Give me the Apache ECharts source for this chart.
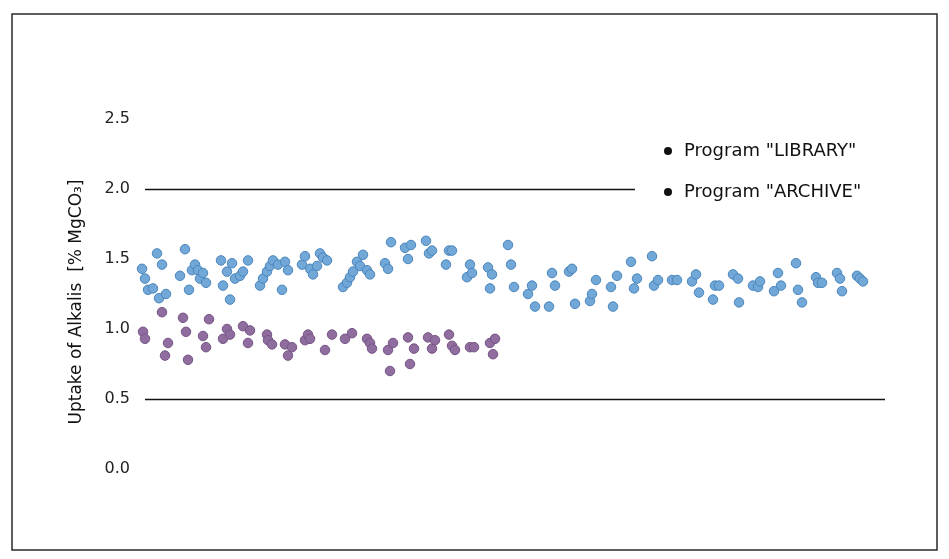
<!DOCTYPE html>
<html>
<head>
<meta charset="utf-8">
<script src="https://cdn.jsdelivr.net/npm/echarts@6/dist/echarts.min.js"></script>
<style>html,body{margin:0;padding:0;background:#fff}#c{width:949px;height:559px}</style>
</head>
<body>
<div id="c"></div>
<script>
// Sample position (arbitrary units along the run) and uptake of alkalis [% MgCO3]
const libraryX = [-3,0,3,8,12,14,17,21,35,40,44,47,50,53,55,58,61,76,78,82,85,87,90,95,98,103,115,118,122,125,128,133,137,140,143,157,160,165,168,172,175,178,182,198,202,205,208,212,215,218,222,225,240,243,246,260,263,266,281,284,287,301,304,307,322,325,327,343,345,347,363,366,369,383,387,390,404,407,410,424,427,430,445,447,451,466,468,472,486,489,492,507,509,513,527,532,547,551,554,568,570,574,588,593,594,608,613,615,629,633,636,651,653,657,671,673,677,692,695,697,712,715,718];
const libraryY = [1.43,1.36,1.28,1.29,1.54,1.22,1.46,1.25,1.38,1.57,1.28,1.42,1.46,1.42,1.36,1.40,1.33,1.49,1.31,1.41,1.21,1.47,1.36,1.38,1.41,1.49,1.31,1.36,1.41,1.45,1.49,1.46,1.28,1.48,1.42,1.46,1.52,1.43,1.39,1.45,1.54,1.51,1.49,1.30,1.33,1.37,1.41,1.48,1.45,1.53,1.42,1.39,1.47,1.43,1.62,1.58,1.50,1.60,1.63,1.54,1.56,1.46,1.56,1.56,1.37,1.46,1.40,1.44,1.29,1.39,1.60,1.46,1.30,1.25,1.31,1.16,1.16,1.40,1.31,1.41,1.43,1.18,1.20,1.25,1.35,1.30,1.16,1.38,1.48,1.29,1.36,1.52,1.31,1.35,1.35,1.35,1.34,1.39,1.26,1.21,1.31,1.31,1.39,1.36,1.19,1.31,1.30,1.34,1.27,1.40,1.31,1.47,1.28,1.19,1.37,1.33,1.33,1.40,1.36,1.27,1.38,1.36,1.34];
const archiveX = [-2,0,17,20,23,38,41,43,58,61,64,78,82,85,98,103,105,122,123,127,140,143,147,160,163,165,180,187,200,207,222,225,227,243,245,248,263,265,269,283,287,290,304,307,310,325,329,345,348,350];
const archiveY = [0.98,0.93,1.12,0.81,0.90,1.08,0.98,0.78,0.95,0.87,1.07,0.93,1.00,0.96,1.02,0.90,0.99,0.96,0.92,0.89,0.89,0.81,0.87,0.92,0.96,0.93,0.85,0.96,0.93,0.97,0.93,0.90,0.86,0.85,0.70,0.90,0.94,0.75,0.86,0.94,0.86,0.92,0.96,0.88,0.85,0.87,0.87,0.90,0.82,0.93];
const yTicks = [0, 0.5, 1.0, 1.5, 2.0, 2.5];
const refLines = [{y: 2.0, xEnd: 490}, {y: 0.5, xEnd: 740}];
const seriesNames = ['Program "LIBRARY"', 'Program "ARCHIVE"'];

const zip = (xs, ys) => xs.map((x, i) => [x, ys[i]]);
const FONT = 'DejaVu Sans';

const chart = echarts.init(document.getElementById('c'), null, {renderer: 'canvas'});
chart.setOption({
  animation: false,
  backgroundColor: '#fff',
  graphic: [{
    type: 'rect',
    shape: {x: 12, y: 14, width: 925, height: 536},
    style: {fill: 'none', stroke: '#2a2a2a', lineWidth: 1.5},
    silent: true
  }],
  grid: {left: 140, right: 64, top: 119, bottom: 90},
  xAxis: {
    type: 'value', min: -5, max: 740,
    show: false
  },
  yAxis: {
    type: 'value', min: yTicks[0], max: yTicks[yTicks.length - 1], interval: 0.5,
    name: 'Uptake of Alkalis  [% MgCO\u2083]',
    nameLocation: 'middle', nameGap: 55,
    nameTextStyle: {fontFamily: FONT, fontSize: 17, color: '#111', padding: [0, 16, 0, 0]},
    axisLine: {show: false}, axisTick: {show: false}, splitLine: {show: false},
    axisLabel: {
      fontFamily: FONT, fontSize: 16, color: '#222', margin: 10,
      formatter: v => v.toFixed(1)
    }
  },
  legend: {
    orient: 'vertical', left: 659, top: 136,
    itemWidth: 8, itemHeight: 8, itemGap: 21,
    icon: 'circle',
    textStyle: {fontFamily: FONT, fontSize: 18, color: '#111', lineHeight: 20, padding: [0, 0, 0, 7]},
    data: seriesNames.map(n => ({name: n, itemStyle: {color: '#111', borderWidth: 0}}))
  },
  series: [{
    name: seriesNames[0], type: 'scatter',
    data: zip(libraryX, libraryY),
    symbolSize: 9.5,
    itemStyle: {color: '#72a8d8', borderColor: '#4a86bd', borderWidth: 1, opacity: 1},
    markLine: {
      silent: true, symbol: 'none', label: {show: false},
      lineStyle: {color: '#111', type: 'solid', width: 1.3},
      data: refLines.map(r => [{coord: [0, r.y]}, {coord: [r.xEnd, r.y]}])
    },
    z: 3
  }, {
    name: seriesNames[1], type: 'scatter',
    data: zip(archiveX, archiveY),
    symbolSize: 9.5,
    itemStyle: {color: '#8f6d9e', borderColor: '#765486', borderWidth: 1, opacity: 1},
    z: 3
  }]
});
</script>
</body>
</html>
